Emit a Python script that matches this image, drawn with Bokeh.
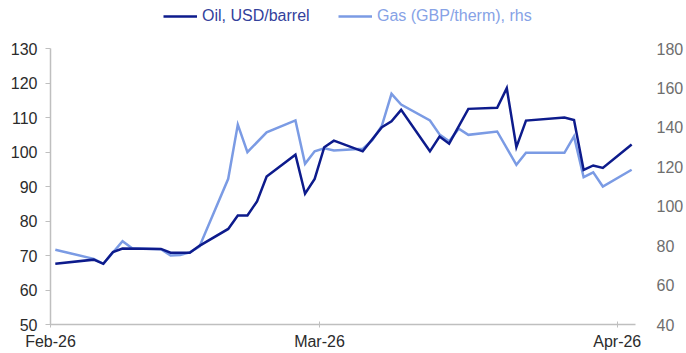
import pandas as pd
from bokeh.plotting import figure
from bokeh.layouts import column
from bokeh.models import (Range1d, LinearAxis, FixedTicker, DatetimeTickFormatter,
                          Legend, LegendItem, ColumnDataSource)
from bokeh.embed import file_html
from bokeh.resources import INLINE

# ---- data ----
oil_dates = ["2026-02-01 12:00", "2026-02-05 12:00", "2026-02-06 12:00", "2026-02-07 12:00",
             "2026-02-08 12:00", "2026-02-12 12:00", "2026-02-13 12:00", "2026-02-15 12:00",
             "2026-02-16 12:00", "2026-02-19 12:00", "2026-02-20 12:00", "2026-02-21 12:00",
             "2026-02-22 12:00", "2026-02-23 12:00", "2026-02-26 12:00", "2026-02-27 12:00",
             "2026-02-28 12:00", "2026-03-01 12:00", "2026-03-02 12:00", "2026-03-05 12:00",
             "2026-03-07 12:00", "2026-03-08 12:00", "2026-03-09 12:00", "2026-03-12 12:00",
             "2026-03-13 12:00", "2026-03-14 12:00", "2026-03-16 12:00", "2026-03-19 12:00",
             "2026-03-20 12:00", "2026-03-21 12:00", "2026-03-22 12:00", "2026-03-26 12:00",
             "2026-03-27 12:00", "2026-03-28 12:00", "2026-03-29 12:00", "2026-03-30 12:00",
             "2026-04-02 12:00"]
oil_values = [67.6, 68.8, 67.6, 71.0,
              72.0, 71.9, 70.8, 70.8,
              72.8, 77.7, 81.6, 81.6,
              85.7, 92.9, 99.2, 87.9,
              92.2, 101.4, 103.3, 100.2,
              107.2, 108.9, 112.2, 100.2,
              104.5, 102.4, 112.5, 112.8,
              118.5, 101.4, 109.1, 110.0,
              109.3, 94.8, 96.1, 95.4,
              102.2]

gas_dates = ["2026-02-01 12:00", "2026-02-05 12:00", "2026-02-06 12:00", "2026-02-08 12:00",
             "2026-02-09 12:00", "2026-02-12 12:00", "2026-02-13 12:00", "2026-02-14 12:00",
             "2026-02-15 12:00", "2026-02-16 12:00", "2026-02-19 12:00", "2026-02-20 12:00",
             "2026-02-21 12:00", "2026-02-23 12:00", "2026-02-26 12:00", "2026-02-27 12:00",
             "2026-02-28 12:00", "2026-03-01 12:00", "2026-03-02 12:00", "2026-03-05 12:00",
             "2026-03-06 12:00", "2026-03-07 12:00", "2026-03-08 12:00", "2026-03-09 12:00",
             "2026-03-12 12:00", "2026-03-13 12:00", "2026-03-14 12:00", "2026-03-15 12:00",
             "2026-03-16 12:00", "2026-03-19 12:00", "2026-03-21 12:00", "2026-03-22 12:00",
             "2026-03-26 12:00", "2026-03-27 12:00", "2026-03-28 12:00", "2026-03-29 12:00",
             "2026-03-30 12:00", "2026-04-02 12:00"]
gas_values = [77.9, 73.3, 70.8, 82.2,
              78.7, 78.2, 75.0, 75.3,
              76.6, 79.5, 113.9, 141.4,
              127.4, 137.5, 143.5, 121.5,
              127.9, 129.4, 128.3, 129.1,
              133.5, 140.9, 157.0, 151.6,
              143.5, 136.4, 133.0, 139.3,
              136.2, 137.9, 121.0, 127.1,
              127.1, 135.4, 114.7, 117.2,
              110.0, 118.5]

x_tick_dates = ["2026-02-01", "2026-03-01", "2026-04-01"]
left_ticks = [50, 60, 70, 80, 90, 100, 110, 120, 130]
right_ticks = [40, 60, 80, 100, 120, 140, 160, 180]
oil_label = "Oil, USD/barrel"
gas_label = "Gas (GBP/therm), rhs"

OIL_COLOR = "#0d1b8c"
GAS_COLOR = "#7b9be4"
FONT = "Liberation Sans"

oil_src = ColumnDataSource(dict(x=pd.to_datetime(oil_dates), y=oil_values))
gas_src = ColumnDataSource(dict(x=pd.to_datetime(gas_dates), y=gas_values))

x_start = pd.Timestamp("2026-02-01")
x_end = x_start + pd.Timedelta(days=60.9)

BORDERS = dict(min_border_left=50, min_border_right=46)

# ---- header with the legend ----
HEAD_H = 30
head = figure(width=686, height=HEAD_H, output_backend="svg", toolbar_location=None,
              x_range=Range1d(0, 1), y_range=Range1d(0, 1),
              min_border_top=0, min_border_bottom=0, **BORDERS)
head.outline_line_color = None
head.xaxis.visible = False
head.yaxis.visible = False
head.xgrid.visible = False
head.ygrid.visible = False
head.background_fill_color = "white"
head.border_fill_color = "white"
# legend key renderers: their single point lies outside the visible range
key_src = ColumnDataSource(dict(x=[-5.0], y=[-5.0]))
oil_key = head.line("x", "y", source=key_src, line_color=OIL_COLOR, line_width=2.5)
gas_key = head.line("x", "y", source=key_src, line_color=GAS_COLOR, line_width=2.5)


def make_legend(label, renderer, color, vx):
    return Legend(items=[LegendItem(label=label, renderers=[renderer])],
                  location=(vx, 5), orientation="horizontal",
                  label_text_font=FONT, label_text_font_size="16px",
                  label_text_color=color, glyph_width=34, glyph_height=16,
                  label_height=16, label_standoff=5, padding=0, margin=0,
                  border_line_color=None, background_fill_alpha=0)


head.add_layout(make_legend(oil_label, oil_key, "#33419c", 113), "center")
head.add_layout(make_legend(gas_label, gas_key, "#86a2e6", 288), "center")

# ---- main chart ----
p = figure(width=686, height=353 - HEAD_H, x_axis_type="datetime", output_backend="svg",
           toolbar_location=None, x_range=Range1d(x_start, x_end),
           y_range=Range1d(50, 130),
           min_border_top=48 - HEAD_H, min_border_bottom=29, **BORDERS)
p.outline_line_color = None
p.xgrid.visible = False
p.ygrid.visible = False
p.background_fill_color = "white"
p.border_fill_color = "white"

p.extra_y_ranges = {"gas": Range1d(40, 180)}

gas_r = p.line("x", "y", source=gas_src, y_range_name="gas", line_color=GAS_COLOR,
               line_width=2.5, line_join="miter")
oil_r = p.line("x", "y", source=oil_src, line_color=OIL_COLOR, line_width=2.5,
               line_join="miter")

# left axis
ya = p.yaxis[0]
ya.ticker = FixedTicker(ticks=left_ticks)
ya.axis_line_color = "#bfbfbf"
ya.axis_line_width = 1.5
ya.major_tick_line_color = "#bfbfbf"
ya.major_tick_out = 5
ya.major_tick_in = 0
ya.minor_tick_line_color = None
ya.major_label_text_font = FONT
ya.major_label_text_font_size = "16px"
ya.major_label_text_color = "#2b2b2b"
ya.major_label_standoff = 8

# right axis
ra = LinearAxis(y_range_name="gas", ticker=FixedTicker(ticks=right_ticks))
ra.axis_line_color = None
ra.major_tick_line_color = None
ra.minor_tick_line_color = None
ra.major_label_text_font = FONT
ra.major_label_text_font_size = "16px"
ra.major_label_text_color = "#6e6e6e"
ra.major_label_standoff = 15
p.add_layout(ra, "right")

# x axis
xa = p.xaxis[0]
xa.ticker = FixedTicker(ticks=[pd.Timestamp(d).value // 10**6 for d in x_tick_dates])
fmt = "%b-%y"
xa.formatter = DatetimeTickFormatter(microseconds=fmt, milliseconds=fmt, seconds=fmt,
                                     minsec=fmt, minutes=fmt, hourmin=fmt, hours=fmt,
                                     days=fmt, months=fmt, years=fmt)
xa.axis_line_color = "#bfbfbf"
xa.axis_line_width = 1.5
xa.major_tick_line_color = "#bfbfbf"
xa.major_tick_out = 3
xa.major_tick_in = 3
xa.minor_tick_line_color = None
xa.major_label_text_font = FONT
xa.major_label_text_font_size = "16px"
xa.major_label_text_color = "#2b2b2b"
xa.major_label_standoff = 5

layout = column(head, p, spacing=0)
open("out.html", "w").write(file_html(layout, INLINE))
